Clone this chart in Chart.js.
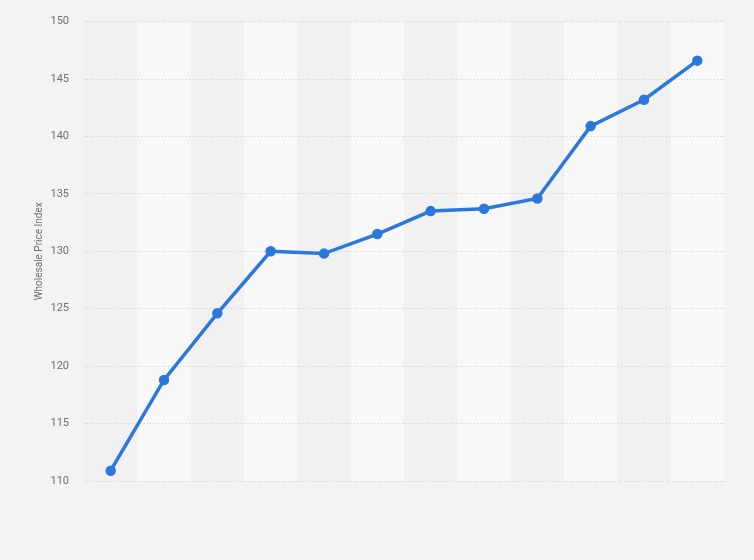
<!DOCTYPE html>
<html>
<head>
<meta charset="utf-8">
<script src="https://cdn.jsdelivr.net/npm/chart.js@4"></script>
<style>
  html, body { margin: 0; padding: 0; background: #f3f3f3; }
  #wrap { width: 754px; height: 560px; position: relative; }
</style>
</head>
<body>
<div id="wrap"><canvas id="c"></canvas></div>
<script>
const categories = ['2011','2012','2013','2014','2015','2016','2017','2018','2019','2020','2021','2022'];
const wpiValues = [110.9, 118.8, 124.6, 130.0, 129.8, 131.5, 133.5, 133.7, 134.6, 140.9, 143.2, 146.6];
const yTicks = [110, 115, 120, 125, 130, 135, 140, 145, 150];
const yTitle = 'Wholesale Price Index';

const bandPlugin = {
  id: 'bands',
  beforeDraw(chart) {
    const { ctx, chartArea, scales } = chart;
    const xs = scales.x;
    const n = categories.length;
    ctx.save();
    for (let i = 0; i < n; i++) {
      const c = xs.getPixelForValue(i);
      const half = (xs.getPixelForValue(1) - xs.getPixelForValue(0)) / 2;
      ctx.fillStyle = i % 2 === 0 ? '#f1f1f1' : '#f8f8f8';
      ctx.fillRect(c - half, chartArea.top, half * 2, chartArea.bottom - chartArea.top);
    }
    ctx.restore();
  }
};

new Chart(document.getElementById('c'), {
  type: 'line',
  data: {
    labels: categories,
    datasets: [{
      data: wpiValues,
      borderColor: '#2a78de',
      backgroundColor: '#2a78de',
      borderWidth: 3.5,
      pointRadius: 3.5,
      pointHoverRadius: 3.5,
      tension: 0,
      fill: false
    }]
  },
  options: {
    responsive: true,
    maintainAspectRatio: false,
    animation: false,
    layout: { padding: { top: 12.7, right: 30, bottom: 79, left: 0 } },
    plugins: { legend: { display: false }, tooltip: { enabled: false } },
    scales: {
      x: {
        display: false,
        offset: true
      },
      y: {
        min: 110,
        max: 150,
        afterFit(scale) { scale.width = 84; },
        afterBuildTicks(scale) { scale.ticks = yTicks.map(v => ({ value: v })); },
        border: { display: false, dash: [1, 2] },
        grid: { color: '#cccccc', drawTicks: false, lineWidth: 1 },
        ticks: {
          color: '#707070',
          padding: 15,
          font: { family: 'Roboto, Arial, sans-serif', size: 11 }
        },
        title: {
          display: true,
          text: yTitle,
          color: '#707070',
          padding: { top: 33, bottom: 0 },
          font: { family: 'Roboto, Arial, sans-serif', size: 10 }
        }
      }
    }
  },
  plugins: [bandPlugin]
});
</script>
</body>
</html>
